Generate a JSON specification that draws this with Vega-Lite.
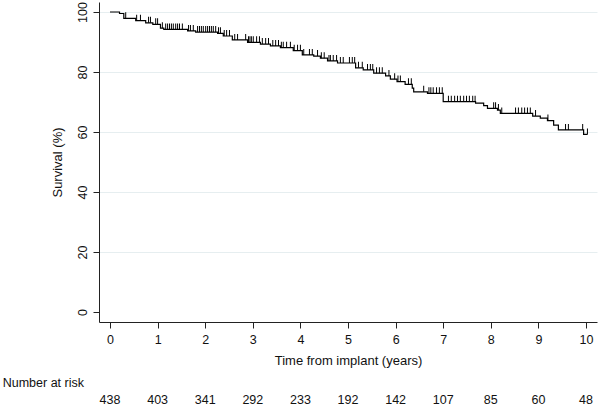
{
  "$schema": "https://vega.github.io/schema/vega-lite/v6.json",
  "width": 498,
  "height": 320,
  "autosize": {"type": "none"},
  "padding": {"left": 99, "top": 2, "right": 3, "bottom": 86},
  "background": "white",
  "config": {
    "view": {"stroke": null},
    "font": "Liberation Sans",
    "text": {"font": "Liberation Sans"}
  },
  "datasets": {
    "km": [
      {"t": 0, "s": 100}, {"t": 0.2, "s": 99.5}, {"t": 0.29, "s": 97.9}, {"t": 0.54, "s": 97.1},
      {"t": 0.75, "s": 96.4}, {"t": 0.9, "s": 95.9}, {"t": 1.06, "s": 94.6}, {"t": 1.13, "s": 94.2},
      {"t": 1.63, "s": 93.7}, {"t": 1.8, "s": 93.3}, {"t": 2.26, "s": 92.9}, {"t": 2.38, "s": 92.0},
      {"t": 2.57, "s": 90.7}, {"t": 2.89, "s": 89.9}, {"t": 3.16, "s": 89.3}, {"t": 3.37, "s": 88.7},
      {"t": 3.58, "s": 88.1}, {"t": 3.85, "s": 87.1}, {"t": 4.04, "s": 85.7}, {"t": 4.28, "s": 85.3},
      {"t": 4.42, "s": 84.6}, {"t": 4.57, "s": 83.7}, {"t": 4.78, "s": 83.0}, {"t": 5.16, "s": 81.4},
      {"t": 5.32, "s": 80.7}, {"t": 5.54, "s": 79.6}, {"t": 5.79, "s": 78.7}, {"t": 5.89, "s": 77.6},
      {"t": 6.03, "s": 76.8}, {"t": 6.2, "s": 75.9}, {"t": 6.35, "s": 74.6}, {"t": 6.38, "s": 73.4},
      {"t": 6.67, "s": 72.9}, {"t": 7.0, "s": 70.1}, {"t": 7.68, "s": 69.6}, {"t": 7.85, "s": 68.8},
      {"t": 7.93, "s": 67.9}, {"t": 8.14, "s": 67.3}, {"t": 8.2, "s": 66.2}, {"t": 8.88, "s": 65.3},
      {"t": 9.04, "s": 64.6}, {"t": 9.19, "s": 63.8}, {"t": 9.32, "s": 62.3}, {"t": 9.42, "s": 60.7},
      {"t": 9.95, "s": 59.2}, {"t": 10.03, "s": 59.2}
    ],
    "cens": [
      {"t": 0.33, "s": 97.9}, {"t": 0.56, "s": 97.1}, {"t": 0.64, "s": 97.1}, {"t": 0.81, "s": 96.4},
      {"t": 0.85, "s": 96.4}, {"t": 0.96, "s": 95.9}, {"t": 1.0, "s": 95.9}, {"t": 1.1, "s": 94.6},
      {"t": 1.17, "s": 94.2}, {"t": 1.21, "s": 94.2}, {"t": 1.25, "s": 94.2}, {"t": 1.29, "s": 94.2},
      {"t": 1.33, "s": 94.2}, {"t": 1.38, "s": 94.2}, {"t": 1.42, "s": 94.2}, {"t": 1.46, "s": 94.2},
      {"t": 1.52, "s": 94.2}, {"t": 1.65, "s": 93.7}, {"t": 1.69, "s": 93.7}, {"t": 1.75, "s": 93.7},
      {"t": 1.84, "s": 93.3}, {"t": 1.88, "s": 93.3}, {"t": 1.92, "s": 93.3}, {"t": 1.96, "s": 93.3},
      {"t": 2.01, "s": 93.3}, {"t": 2.05, "s": 93.3}, {"t": 2.09, "s": 93.3}, {"t": 2.13, "s": 93.3},
      {"t": 2.17, "s": 93.3}, {"t": 2.22, "s": 93.3}, {"t": 2.28, "s": 92.9}, {"t": 2.32, "s": 92.9},
      {"t": 2.4, "s": 92.0}, {"t": 2.45, "s": 92.0}, {"t": 2.51, "s": 92.0}, {"t": 2.62, "s": 90.7},
      {"t": 2.68, "s": 90.7}, {"t": 2.85, "s": 90.7}, {"t": 2.91, "s": 89.9}, {"t": 2.94, "s": 89.9},
      {"t": 2.97, "s": 89.9}, {"t": 3.01, "s": 89.9}, {"t": 3.08, "s": 89.9}, {"t": 3.14, "s": 89.9},
      {"t": 3.2, "s": 89.3}, {"t": 3.27, "s": 89.3}, {"t": 3.33, "s": 89.3}, {"t": 3.42, "s": 88.7},
      {"t": 3.48, "s": 88.7}, {"t": 3.54, "s": 88.7}, {"t": 3.6, "s": 88.1}, {"t": 3.64, "s": 88.1},
      {"t": 3.71, "s": 88.1}, {"t": 3.79, "s": 88.1}, {"t": 3.87, "s": 87.1}, {"t": 3.94, "s": 87.1},
      {"t": 4.0, "s": 87.1}, {"t": 4.07, "s": 85.7}, {"t": 4.19, "s": 85.7}, {"t": 4.25, "s": 85.7},
      {"t": 4.36, "s": 85.3}, {"t": 4.44, "s": 84.6}, {"t": 4.5, "s": 84.6}, {"t": 4.6, "s": 83.7},
      {"t": 4.63, "s": 83.7}, {"t": 4.69, "s": 83.7}, {"t": 4.76, "s": 83.7}, {"t": 4.84, "s": 83.0},
      {"t": 4.9, "s": 83.0}, {"t": 5.03, "s": 83.0}, {"t": 5.09, "s": 83.0}, {"t": 5.14, "s": 83.0},
      {"t": 5.22, "s": 81.4}, {"t": 5.3, "s": 81.4}, {"t": 5.41, "s": 80.7}, {"t": 5.47, "s": 80.7},
      {"t": 5.52, "s": 80.7}, {"t": 5.6, "s": 79.6}, {"t": 5.66, "s": 79.6}, {"t": 5.72, "s": 79.6},
      {"t": 5.86, "s": 78.7}, {"t": 5.98, "s": 77.6}, {"t": 6.05, "s": 76.8}, {"t": 6.1, "s": 76.8},
      {"t": 6.27, "s": 75.9}, {"t": 6.33, "s": 75.9}, {"t": 6.59, "s": 73.4}, {"t": 6.7, "s": 72.9},
      {"t": 6.74, "s": 72.9}, {"t": 6.79, "s": 72.9}, {"t": 6.86, "s": 72.9}, {"t": 6.92, "s": 72.9},
      {"t": 6.98, "s": 72.9}, {"t": 7.11, "s": 70.1}, {"t": 7.17, "s": 70.1}, {"t": 7.24, "s": 70.1},
      {"t": 7.3, "s": 70.1}, {"t": 7.36, "s": 70.1}, {"t": 7.43, "s": 70.1}, {"t": 7.49, "s": 70.1},
      {"t": 7.55, "s": 70.1}, {"t": 7.62, "s": 70.1}, {"t": 7.67, "s": 70.1}, {"t": 8.06, "s": 67.9},
      {"t": 8.1, "s": 67.9}, {"t": 8.16, "s": 67.3}, {"t": 8.23, "s": 66.2}, {"t": 8.52, "s": 66.2},
      {"t": 8.58, "s": 66.2}, {"t": 8.65, "s": 66.2}, {"t": 8.71, "s": 66.2}, {"t": 8.77, "s": 66.2},
      {"t": 8.83, "s": 66.2}, {"t": 8.94, "s": 65.3}, {"t": 9.2, "s": 63.8}, {"t": 9.57, "s": 60.7},
      {"t": 9.63, "s": 60.7}, {"t": 9.93, "s": 60.7}, {"t": 10.03, "s": 59.2}
    ],
    "risk": [
      {"t": 0, "n": 438}, {"t": 1, "n": 403}, {"t": 2, "n": 341}, {"t": 3, "n": 292},
      {"t": 4, "n": 233}, {"t": 5, "n": 192}, {"t": 6, "n": 142}, {"t": 7, "n": 107},
      {"t": 8, "n": 85}, {"t": 9, "n": 60}, {"t": 10, "n": 48}
    ]
  },
  "layer": [
    {
      "data": {"name": "km"},
      "mark": {"type": "line", "interpolate": "step-after", "color": "#000000", "strokeWidth": 1.2},
      "encoding": {
        "x": {
          "field": "t", "type": "quantitative",
          "scale": {"domain": [-0.231, 10.231], "nice": false, "zero": false},
          "axis": {
            "title": "Time from implant (years)",
            "values": [0, 1, 2, 3, 4, 5, 6, 7, 8, 9, 10],
            "format": "d",
            "grid": false,
            "domainColor": "#222222",
            "tickColor": "#222222",
            "tickSize": 6,
            "labelFontSize": 12.5,
            "labelColor": "#111111",
            "labelPadding": 5,
            "labelFont": "Liberation Sans",
            "titleFont": "Liberation Sans",
            "titleFontSize": 13,
            "titleFontWeight": "normal",
            "titleColor": "#111111",
            "titlePadding": 9
          }
        },
        "y": {
          "field": "s", "type": "quantitative",
          "scale": {"domain": [-3.333, 103.333], "nice": false, "zero": false},
          "axis": {
            "title": "Survival (%)",
            "values": [0, 20, 40, 60, 80, 100],
            "grid": true,
            "gridColor": {"condition": {"test": "datum.value === 0", "value": "transparent"}, "value": "#e6eef0"},
            "gridWidth": 1,
            "domainColor": "#222222",
            "tickColor": "#222222",
            "tickSize": 6,
            "labelAngle": -90,
            "labelAlign": "center",
            "labelBaseline": "alphabetic",
            "labelPadding": 7,
            "labelFontSize": 12.5,
            "labelColor": "#111111",
            "labelFont": "Liberation Sans",
            "titleFont": "Liberation Sans",
            "titleFontSize": 13,
            "titleFontWeight": "normal",
            "titleColor": "#111111",
            "titlePadding": 12
          }
        }
      }
    },
    {
      "data": {"name": "cens"},
      "mark": {"type": "tick", "orient": "vertical", "size": 6, "thickness": 1, "yOffset": -3, "color": "#000000", "opacity": 1},
      "encoding": {
        "x": {"field": "t", "type": "quantitative"},
        "y": {"field": "s", "type": "quantitative"}
      }
    },
    {
      "data": {"name": "risk"},
      "mark": {"type": "text", "fontSize": 12.5, "color": "#111111", "baseline": "middle", "align": "center"},
      "encoding": {
        "x": {"field": "t", "type": "quantitative"},
        "y": {"datum": -29.4},
        "text": {"field": "n", "type": "quantitative"}
      }
    },
    {
      "data": {"values": [{"label": "Number at risk"}]},
      "mark": {"type": "text", "fontSize": 12.5, "color": "#111111", "baseline": "middle", "align": "left"},
      "encoding": {
        "x": {"datum": -2.254},
        "y": {"datum": -23.7},
        "text": {"field": "label", "type": "nominal"}
      }
    }
  ]
}
